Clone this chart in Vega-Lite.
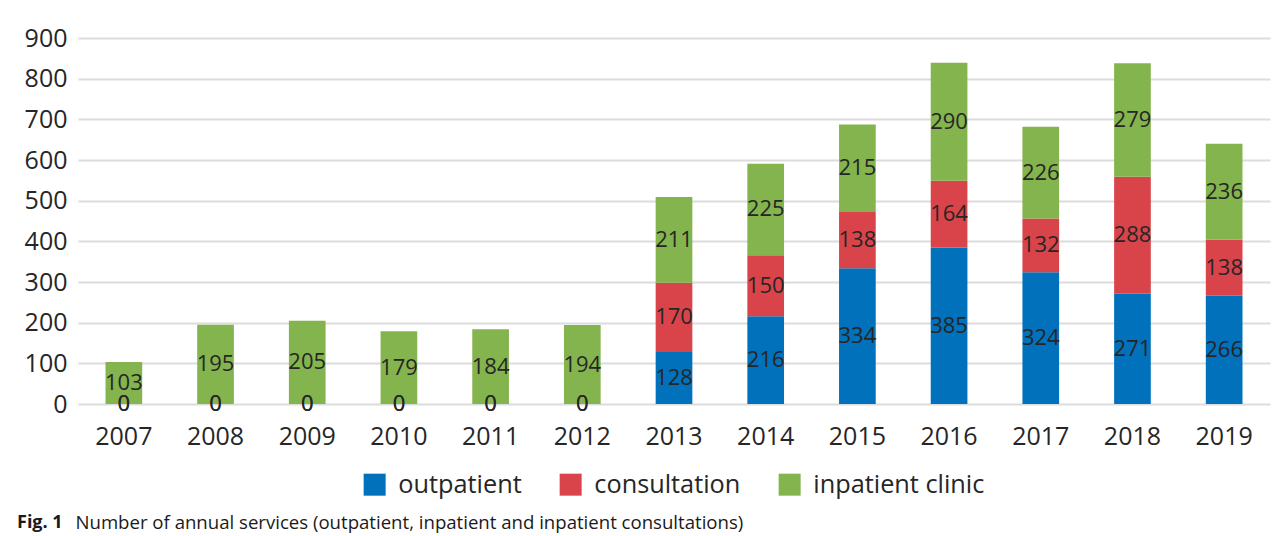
{
  "$schema": "https://vega.github.io/schema/vega-lite/v6.json",
  "width": 1192,
  "height": 366,
  "autosize": {"type": "none"},
  "padding": {"left": 78, "top": 38, "right": 10, "bottom": 132},
  "background": "white",
  "config": {
    "view": {"stroke": null},
    "font": "Open Sans",
    "axis": {"labelFont": "Open Sans", "labelColor": "#262626", "domain": false, "ticks": false}
  },
  "title": {
    "text": "Fig. 1",
    "orient": "bottom",
    "anchor": "start",
    "frame": "group",
    "dx": -61,
    "offset": -4,
    "baseline": "alphabetic",
    "font": "Open Sans",
    "fontSize": 18,
    "fontWeight": "bold",
    "color": "#1a1a1a"
  },
  "data": {
    "values": [
      {"year": "2007", "outpatient": 0, "consultation": 0, "inpatient clinic": 103},
      {"year": "2008", "outpatient": 0, "consultation": 0, "inpatient clinic": 195},
      {"year": "2009", "outpatient": 0, "consultation": 0, "inpatient clinic": 205},
      {"year": "2010", "outpatient": 0, "consultation": 0, "inpatient clinic": 179},
      {"year": "2011", "outpatient": 0, "consultation": 0, "inpatient clinic": 184},
      {"year": "2012", "outpatient": 0, "consultation": 0, "inpatient clinic": 194},
      {"year": "2013", "outpatient": 128, "consultation": 170, "inpatient clinic": 211},
      {"year": "2014", "outpatient": 216, "consultation": 150, "inpatient clinic": 225},
      {"year": "2015", "outpatient": 334, "consultation": 138, "inpatient clinic": 215},
      {"year": "2016", "outpatient": 385, "consultation": 164, "inpatient clinic": 290},
      {"year": "2017", "outpatient": 324, "consultation": 132, "inpatient clinic": 226},
      {"year": "2018", "outpatient": 271, "consultation": 288, "inpatient clinic": 279},
      {"year": "2019", "outpatient": 266, "consultation": 138, "inpatient clinic": 236}
    ]
  },
  "transform": [
    {"fold": ["outpatient", "consultation", "inpatient clinic"], "as": ["type", "count"]},
    {"stack": "count", "groupby": ["year"], "as": ["y0", "y1"]}
  ],
  "encoding": {
    "x": {
      "field": "year",
      "type": "ordinal",
      "scale": {"paddingInner": 0.6, "paddingOuter": 0.3},
      "axis": {
        "labelAngle": 0, "labelFontSize": 25, "labelPadding": 20, "grid": false,
        "title": "Number of annual services (outpatient, inpatient and inpatient consultations)",
        "titleFont": "Open Sans", "titleFontSize": 18.6, "titleFontWeight": "normal", "titleColor": "#1a1a1a",
        "titleAnchor": "start", "titleAlign": "left", "titleBaseline": "alphabetic",
        "titleX": -3, "titleY": 124
      }
    }
  },
  "layer": [
    {
      "mark": {"type": "bar"},
      "encoding": {
        "y": {
          "field": "y0",
          "type": "quantitative",
          "scale": {"domain": [0, 900], "nice": false},
          "axis": {"title": null, "values": [0, 100, 200, 300, 400, 500, 600, 700, 800, 900], "labelFontSize": 25, "labelPadding": 11, "grid": true, "gridColor": "#dcdcdc", "gridWidth": 2}
        },
        "y2": {"field": "y1"},
        "color": {
          "field": "type",
          "type": "nominal",
          "scale": {"domain": ["outpatient", "consultation", "inpatient clinic"], "range": ["#0171BB", "#D9444A", "#84B44D"]},
          "legend": {
            "title": null,
            "orient": "none",
            "direction": "horizontal",
            "legendX": 284,
            "legendY": 434,
            "symbolType": "square",
            "symbolSize": 484,
            "symbolStrokeWidth": 0,
            "labelFont": "Open Sans",
            "labelFontSize": 25.3,
            "labelColor": "#262626",
            "labelOffset": 11,
            "labelLimit": 400,
            "columnPadding": 36
          }
        }
      }
    },
    {
      "transform": [
        {"fold": ["y0", "y1"], "as": ["edge", "pos"]},
        {"aggregate": [{"op": "mean", "field": "pos", "as": "mid"}], "groupby": ["year", "type", "count"]}
      ],
      "mark": {"type": "text", "font": "Open Sans", "fontSize": 22, "color": "#262626", "baseline": "middle", "align": "center"},
      "encoding": {
        "y": {"field": "mid", "type": "quantitative"},
        "text": {"field": "count", "type": "quantitative"}
      }
    }
  ]
}
